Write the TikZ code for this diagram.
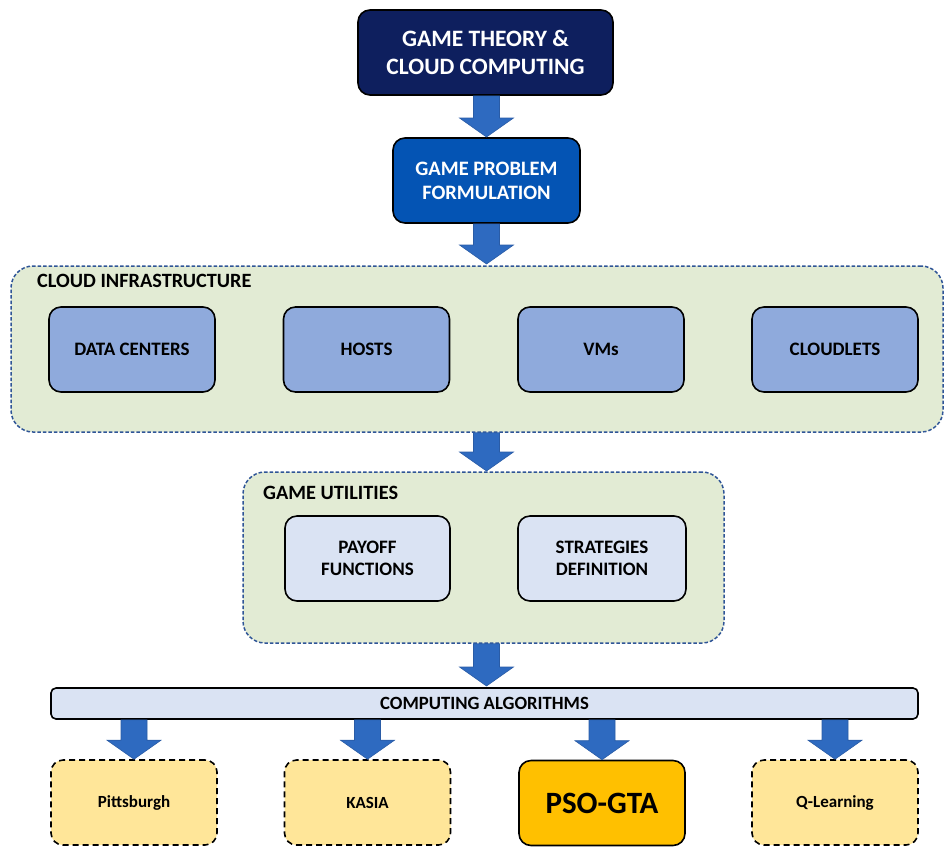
\documentclass[tikz,border=0pt]{standalone}
\usepackage{fontspec}
\setmainfont{Carlito}
\usetikzlibrary{calc}
\definecolor{navy}{HTML}{0E1F5E}
\definecolor{formblue}{HTML}{0454B4}
\definecolor{arrowfill}{HTML}{2E6AC0}
\definecolor{arrowedge}{HTML}{2A5CA6}
\definecolor{contfill}{HTML}{E2EBD4}
\definecolor{contedge}{HTML}{2F5597}
\definecolor{midblue}{HTML}{8FAADC}
\definecolor{paleblue}{HTML}{DAE3F3}
\definecolor{paleyellow}{HTML}{FFE699}
\definecolor{gold}{HTML}{FFC000}
\tikzset{
  box/.style={rectangle, rounded corners=12pt, draw=black, line width=1.6pt, align=center, font=\bfseries, inner sep=0pt},
  container/.style={rectangle, rounded corners=22pt, draw=contedge, fill=contfill, line width=1.5pt, dash pattern=on 3.5pt off 2pt, inner sep=0pt},
  algo/.style={box, fill=paleyellow, dash pattern=on 6pt off 4pt, minimum width=166pt, minimum height=85pt, font=\bfseries\fontsize{17}{20}\selectfont},
  blockarrow/.style={fill=arrowfill, draw=arrowedge, line width=0.6pt, line join=miter}
}
\newcommand\blockarr[2]{%
  \path[blockarrow] let \p1=(#1), \p2=(#2) in
    ({\x2-13pt},{\y1}) -- ({\x2+13pt},{\y1}) -- ({\x2+13pt},{\y2+19pt}) -- ({\x2+27pt},{\y2+19pt})
    -- ({\x2},{\y2}) -- ({\x2-27pt},{\y2+19pt}) -- ({\x2-13pt},{\y2+19pt}) -- cycle;}
\begin{document}
\begin{tikzpicture}[x=1pt,y=-1pt]
\useasboundingbox (0,0) rectangle (944,847);
% top boxes
\node[box, fill=navy, text=white, minimum width=255pt, minimum height=85pt,
  font=\bfseries\fontsize{23.5}{28}\selectfont] (gt) at (485.5,52.5) {GAME THEORY \&\\CLOUD COMPUTING};
\node[box, fill=formblue, text=white, minimum width=187pt, minimum height=85pt,
  font=\bfseries\fontsize{20.5}{24}\selectfont] (form) at (486.5,180.5) {GAME PROBLEM\\FORMULATION};
% cloud infrastructure
\node[container, minimum width=932pt, minimum height=166pt] (cloud) at (477,349) {};
\node[anchor=west, font=\bfseries\fontsize{20.3}{24}\selectfont, inner sep=0pt] (cloudlab) at (37,281) {CLOUD INFRASTRUCTURE};
\tikzset{infra/.style={box, fill=midblue, minimum width=166pt, minimum height=85pt, font=\bfseries\fontsize{19}{22}\selectfont}}
\node[infra] (dc) at (132,349.5) {DATA CENTERS};
\node[infra] (hosts) at (366.5,349.5) {HOSTS};
\node[infra] (vms) at (601,349.5) {VMs};
\node[infra] (cl) at (835,349.5) {CLOUDLETS};
% game utilities
\node[container, minimum width=481pt, minimum height=171pt] (util) at (483.5,557.5) {};
\node[anchor=west, font=\bfseries\fontsize{20.3}{24}\selectfont, inner sep=0pt] (utillab) at (263,493) {GAME UTILITIES};
\tikzset{utilbox/.style={box, fill=paleblue, minimum height=85pt, font=\bfseries\fontsize{19}{22}\selectfont}}
\node[utilbox, minimum width=165pt] (pay) at (367.5,558.5) {PAYOFF\\FUNCTIONS};
\node[utilbox, minimum width=168pt] (str) at (602,558.5) {STRATEGIES\\DEFINITION};
% computing algorithms bar
\node[box, rounded corners=5pt, fill=paleblue, minimum width=867pt, minimum height=31pt,
  font=\bfseries\fontsize{18.7}{22}\selectfont] (bar) at (484.5,703.5) {COMPUTING ALGORITHMS};
% algorithms
\node[algo] (pitt) at (134,802.5) {Pittsburgh};
\node[algo] (kasia) at (367.5,802.5) {KASIA};
\node[box, fill=gold, minimum width=166pt, minimum height=85pt, font=\bfseries\fontsize{31}{36}\selectfont] (pso) at (602,803) {PSO-GTA};
\node[algo] (ql) at (835,802.5) {Q-Learning};
% block arrows
\coordinate (a1) at (486.5,137);
\blockarr{gt.south -| a1}{a1}
\coordinate (a2) at (486.5,264);
\blockarr{form.south -| a2}{a2}
\coordinate (a3) at (486.5,471);
\blockarr{cloud.south -| a3}{a3}
\coordinate (a4) at (486.5,686);
\blockarr{util.south -| a4}{a4}
\blockarr{bar.south -| pitt.north}{pitt.north}
\blockarr{bar.south -| kasia.north}{kasia.north}
\blockarr{bar.south -| pso.north}{pso.north}
\blockarr{bar.south -| ql.north}{ql.north}
\end{tikzpicture}
\end{document}
